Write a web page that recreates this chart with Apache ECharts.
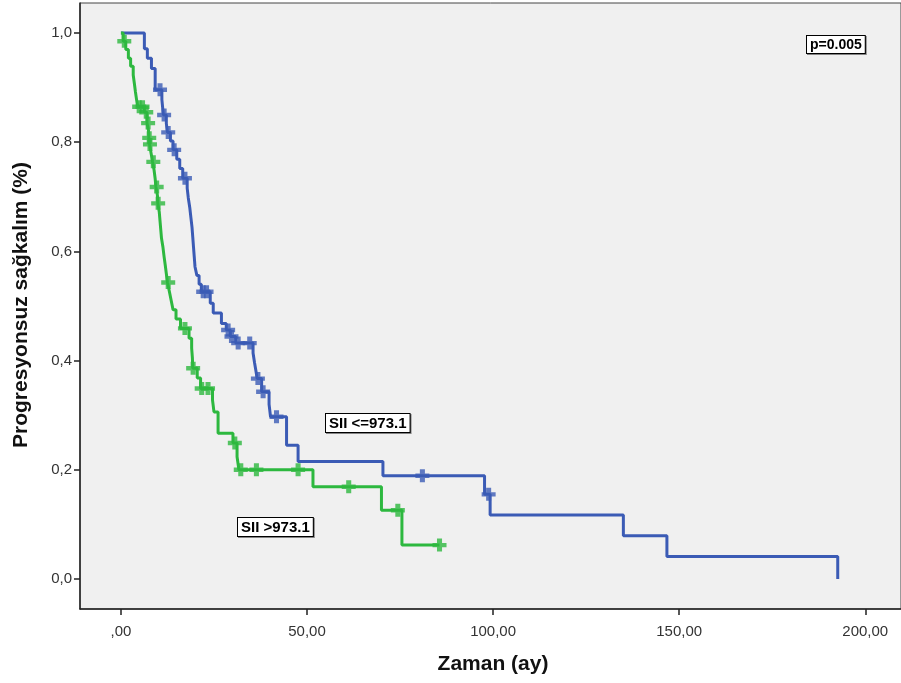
<!DOCTYPE html>
<html>
<head>
<meta charset="utf-8">
<script src="https://cdn.jsdelivr.net/npm/echarts@6/dist/echarts.min.js"></script>
<style>
  html, body { margin: 0; padding: 0; background: #fff; }
  #chart { width: 901px; height: 683px; }
</style>
</head>
<body>
<div id="chart"></div>
<script>
// Kaplan-Meier steps: [time (ay), survival after the drop]
const lowSteps = [
  [0, 1.0], [6.3, 0.971], [7.1, 0.954], [8.2, 0.935], [9.2, 0.896],
  [11.0, 0.878], [11.4, 0.850], [12.2, 0.834], [12.5, 0.818], [13.3, 0.802],
  [14.0, 0.786], [15.0, 0.769], [15.8, 0.752], [16.6, 0.734], [17.8, 0.716],
  [18.1, 0.698], [18.5, 0.680], [18.8, 0.662], [19.1, 0.644], [19.3, 0.626],
  [19.5, 0.608], [19.7, 0.590], [19.9, 0.572], [20.4, 0.556], [21.0, 0.540],
  [21.6, 0.526], [24.0, 0.505], [24.8, 0.487], [27.0, 0.468], [28.3, 0.456],
  [29.4, 0.444], [30.8, 0.432], [35.5, 0.414], [35.9, 0.396], [36.3, 0.380],
  [36.6, 0.367], [37.8, 0.343], [39.8, 0.320], [40.2, 0.297], [44.5, 0.245],
  [47.6, 0.215], [70.4, 0.189], [97.7, 0.155], [99.2, 0.117], [135.0, 0.079],
  [146.7, 0.041], [192.6, 0.0]
];
const lowCensored = [
  [10.5, 0.896], [11.6, 0.850], [12.7, 0.818], [14.3, 0.786], [17.2, 0.734],
  [22.1, 0.526], [23.0, 0.526], [28.8, 0.456], [29.7, 0.444], [31.5, 0.432],
  [34.6, 0.432], [36.8, 0.367], [38.2, 0.343], [41.8, 0.297], [81.0, 0.189],
  [98.8, 0.155]
];

const highSteps = [
  [0, 1.0], [0.6, 0.985], [1.3, 0.970], [2.0, 0.954], [2.6, 0.939],
  [3.3, 0.923], [3.6, 0.908], [3.9, 0.892], [4.2, 0.878], [4.5, 0.865],
  [6.3, 0.855], [7.0, 0.835], [7.4, 0.822], [7.5, 0.808], [7.7, 0.796],
  [8.1, 0.780], [8.5, 0.764], [8.9, 0.749], [9.2, 0.733], [9.4, 0.718],
  [9.8, 0.703], [9.9, 0.688], [10.3, 0.672], [10.5, 0.656], [10.7, 0.640],
  [10.9, 0.624], [11.3, 0.607], [11.6, 0.590], [11.9, 0.575], [12.2, 0.559],
  [12.5, 0.543], [13.0, 0.527], [13.5, 0.510], [14.0, 0.493], [14.8, 0.476],
  [16.0, 0.459], [18.3, 0.441], [19.0, 0.423], [19.2, 0.405], [19.3, 0.386],
  [20.5, 0.368], [21.4, 0.349], [24.6, 0.328], [25.0, 0.306], [26.1, 0.267],
  [30.1, 0.249], [31.2, 0.224], [31.7, 0.200], [51.6, 0.169], [70.0, 0.126],
  [75.5, 0.062], [85.6, 0.062]
];
const highCensored = [
  [0.9, 0.985], [4.9, 0.865], [5.8, 0.865], [6.8, 0.855], [7.3, 0.835],
  [7.6, 0.808], [7.8, 0.796], [8.7, 0.764], [9.6, 0.718], [10.0, 0.688],
  [12.7, 0.543], [17.2, 0.459], [19.4, 0.386], [21.7, 0.349], [23.4, 0.349],
  [30.6, 0.249], [32.2, 0.200], [36.4, 0.200], [47.6, 0.200], [61.2, 0.169],
  [74.4, 0.126], [85.6, 0.062]
];

const xTickValues = [0, 50, 100, 150, 200];
const xTickLabels = [',00', '50,00', '100,00', '150,00', '200,00'];
const yTickValues = [0, 0.2, 0.4, 0.6, 0.8, 1.0];
const yTickLabels = ['0,0', '0,2', '0,4', '0,6', '0,8', '1,0'];

const BLUE = '#3b5bb5';
const GREEN = '#2db83f';
const PLUS = 'path://M3.2,0H6.8V3.3H10V6.7H6.8V10H3.2V6.7H0V3.3H3.2Z';
const FONT = '"Liberation Sans", Arial, sans-serif';

const chart = echarts.init(document.getElementById('chart'));

const boxText = function (txt, x, y, size) {
  return {
    type: 'text',
    left: x,
    top: y,
    z: 100,
    style: {
      text: txt,
      font: 'bold ' + size + 'px ' + FONT,
      fill: '#000',
      backgroundColor: '#fff',
      borderColor: '#000',
      borderWidth: 1,
      padding: [2, 3, 1, 3],
      shadowColor: 'rgba(0,0,0,0.45)',
      shadowOffsetX: 1,
      shadowOffsetY: 1,
      shadowBlur: 0
    }
  };
};

const option = {
  animation: false,
  backgroundColor: '#fff',
  grid: {
    left: 80, right: -1, top: 3, bottom: 74,
    show: true,
    backgroundColor: '#f0f0f0',
    borderColor: '#444',
    borderWidth: 1
  },
  xAxis: {
    type: 'value',
    min: -11,
    max: 209.6,
    splitLine: { show: false },
    axisLine: { show: true, onZero: false, lineStyle: { color: '#222', width: 1.5 } },
    axisTick: { show: true, length: 6, customValues: xTickValues, lineStyle: { color: '#222', width: 1.5 } },
    axisLabel: {
      customValues: xTickValues,
      margin: 15,
      fontSize: 15,
      color: '#333',
      fontFamily: FONT,
      formatter: function (v) {
        const i = xTickValues.indexOf(v);
        return i >= 0 ? xTickLabels[i] : '';
      }
    }
  },
  yAxis: {
    type: 'value',
    min: -0.055,
    max: 1.055,
    splitLine: { show: false },
    axisLine: { show: true, onZero: false, lineStyle: { color: '#222', width: 1.5 } },
    axisTick: { show: true, length: 6, customValues: yTickValues, lineStyle: { color: '#222', width: 1.5 } },
    axisLabel: {
      customValues: yTickValues,
      margin: 8,
      fontSize: 15,
      color: '#333',
      fontFamily: FONT,
      formatter: function (v) {
        const i = yTickValues.findIndex(t => Math.abs(t - v) < 1e-6);
        return i >= 0 ? yTickLabels[i] : '';
      }
    }
  },
  graphic: [
    {
      type: 'text',
      x: 21, y: 305,
      rotation: Math.PI / 2,
      style: {
        text: 'Progresyonsuz sağkalım (%)',
        font: 'bold 21px ' + FONT,
        fill: '#111',
        align: 'center',
        verticalAlign: 'middle'
      }
    },
    {
      type: 'text',
      x: 493, y: 664,
      style: {
        text: 'Zaman (ay)',
        font: 'bold 21px ' + FONT,
        fill: '#111',
        align: 'center',
        verticalAlign: 'middle'
      }
    },
    boxText('p=0.005', 806, 35, 14),
    boxText('SII <=973.1', 325, 413, 15),
    boxText('SII >973.1', 237, 517, 15)
  ],
  series: [
    {
      name: 'SII <=973.1',
      type: 'line',
      step: 'end',
      data: lowSteps,
      symbol: 'none',
      lineStyle: { color: BLUE, width: 3 },
      z: 2
    },
    {
      name: 'SII >973.1',
      type: 'line',
      step: 'end',
      data: highSteps,
      symbol: 'none',
      lineStyle: { color: GREEN, width: 3 },
      z: 3
    },
    {
      type: 'scatter',
      data: lowCensored,
      symbol: PLUS,
      symbolSize: [14, 13],
      itemStyle: { color: BLUE },
      z: 4
    },
    {
      type: 'scatter',
      data: highCensored,
      symbol: PLUS,
      symbolSize: [14, 13],
      itemStyle: { color: GREEN },
      z: 5
    }
  ]
};

chart.setOption(option);
</script>
</body>
</html>
